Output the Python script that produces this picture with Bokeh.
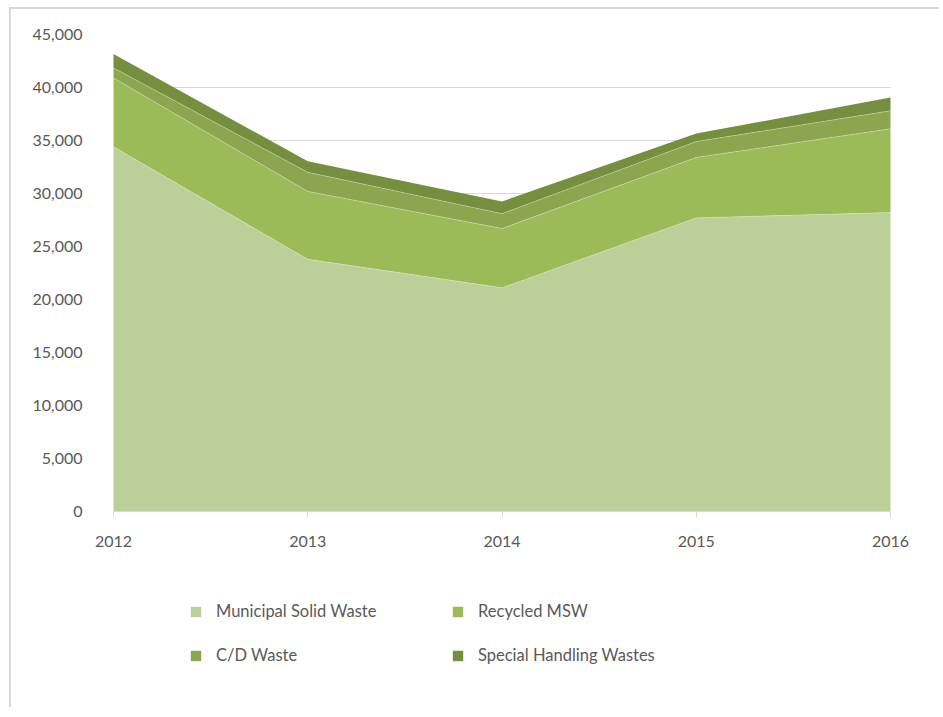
from bokeh.plotting import figure
from bokeh.models import ColumnDataSource, Range1d, FixedTicker, NumeralTickFormatter, Legend, Grid
from bokeh.transform import stack
from bokeh.embed import file_html
from bokeh.resources import INLINE

years = [2012, 2013, 2014, 2015, 2016]
msw = [34400, 23800, 21100, 27700, 28200]
recycled = [6500, 6400, 5600, 5700, 7900]
cd_waste = [950, 1800, 1400, 1500, 1700]
special = [1300, 1050, 1150, 750, 1250]
y_ticks = [0, 5000, 10000, 15000, 20000, 25000, 30000, 35000, 40000, 45000]
series_names = ["Municipal Solid Waste", "Recycled MSW", "C/D Waste", "Special Handling Wastes"]
colors = ["#bbcf98", "#9bbb59", "#8ba64f", "#758f3f"]
stackers = ["msw", "recycled", "cd", "special"]

# layout (pixels): plot area 0..45000 is 477px tall, 2012..2016 is 777px wide;
# the frame extends beyond it so axis labels and the legend are not clipped
Y_MAX = 45000
PLOT_H = 477
FRAME_H = 667
PLOT_W = 777
PAD_L = 23
PAD_R = 25
y_start = -Y_MAX * (FRAME_H - PLOT_H) / PLOT_H
px_per_year = PLOT_W / (years[-1] - years[0])
x_start = years[0] - PAD_L / px_per_year
x_end = years[-1] + PAD_R / px_per_year

source = ColumnDataSource(dict(year=years, msw=msw, recycled=recycled, cd=cd_waste, special=special))

p = figure(width=930, height=700, output_backend="svg", toolbar_location=None,
           x_range=Range1d(x_start, x_end), y_range=Range1d(y_start, Y_MAX),
           min_border_left=79, min_border_right=26, min_border_top=25, min_border_bottom=8)
p.styles = {"border-left": "2px solid #d9d9d9", "border-top": "2px solid #d9d9d9",
            "margin-left": "9px", "margin-top": "7px"}

renderers = p.varea_stack(stackers=stackers, x="year", color=colors, source=source)
for i in range(1, 4):
    p.line(x="year", y=stack(*stackers[:i]), source=source,
           color="white", alpha=0.3, line_width=1)

p.outline_line_color = None
p.xgrid.grid_line_color = None
p.ygrid.grid_line_color = "#d9d9d9"
p.ygrid.grid_line_width = 1
p.ygrid.level = "underlay"
if "cross_bounds" in Grid.properties():
    p.ygrid.cross_bounds = (years[0], years[-1])

p.xaxis.ticker = FixedTicker(ticks=years)
p.xaxis.fixed_location = 0
p.xaxis.bounds = (years[0], years[-1])
p.yaxis.ticker = FixedTicker(ticks=y_ticks)
p.yaxis.formatter = NumeralTickFormatter(format="0,0")

for ax in [p.xaxis[0], p.yaxis[0]]:
    ax.major_label_text_font = "Lato"
    ax.major_label_text_font_size = "16px"
    ax.major_label_text_color = "#595959"
    ax.minor_tick_line_color = None

p.yaxis.axis_line_color = None
p.yaxis.major_tick_line_color = None
p.yaxis.major_label_standoff = 2

p.xaxis.axis_line_color = "#d9d9d9"
p.xaxis.major_tick_line_color = "#d9d9d9"
p.xaxis.major_tick_in = 0
p.xaxis.major_tick_out = 6
p.xaxis.major_label_standoff = 18

legend = Legend(items=[(n, [r]) for n, r in zip(series_names, renderers)],
                location=(99, 36), orientation="horizontal", ncols=2,
                border_line_color=None, background_fill_alpha=0,
                padding=0, margin=0, spacing=24,
                glyph_width=13, glyph_height=13, label_standoff=14,
                label_width=211, label_height=20,
                label_text_font="Lato", label_text_font_size="16.5px",
                label_text_color="#595959")
p.add_layout(legend, "center")

open("out.html", "w").write(file_html(p, INLINE))
